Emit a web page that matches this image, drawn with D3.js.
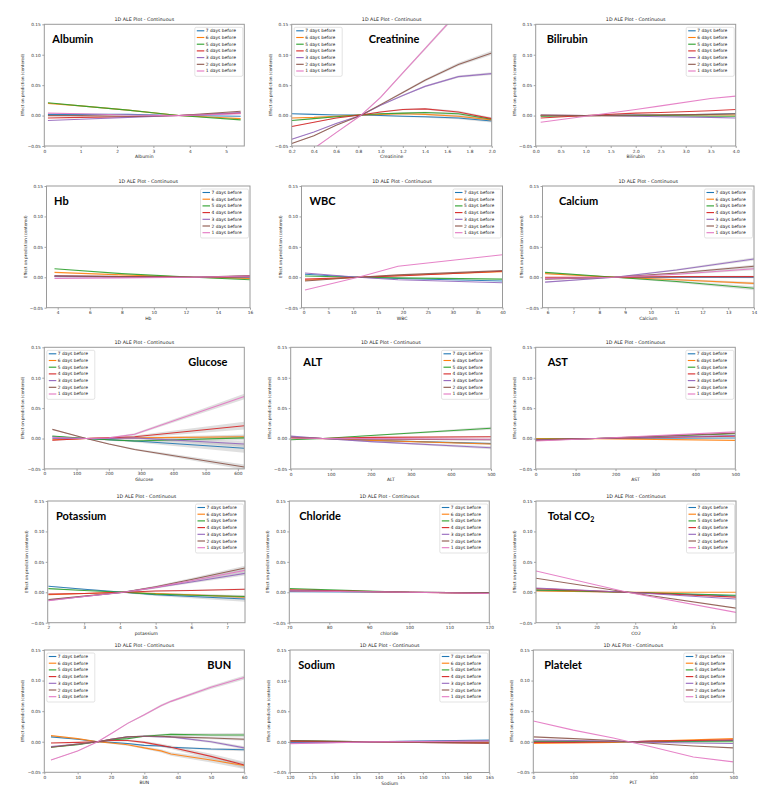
<!DOCTYPE html>
<html><head><meta charset="utf-8">
<script src="https://cdn.jsdelivr.net/npm/d3@7/dist/d3.min.js"></script>
<style>body{margin:0;background:#fff}svg{display:block}</style>
</head><body><svg id="c" width="765" height="800"></svg>
<script>
const seriesLabels = ["7 days before","6 days before","5 days before","4 days before","3 days before","2 days before","1 days before"];
const seriesColors = ["#1f77b4","#ff7f0e","#2ca02c","#d62728","#9467bd","#8c564b","#e377c2"];
const panelNames = ["Albumin","Creatinine","Bilirubin","Hb","WBC","Calcium","Glucose","ALT","AST","Potassium","Chloride","Total CO2","BUN","Sodium","Platelet"];
const xAxisLabels = ["Albumin","Creatinine","Bilirubin","Hb","WBC","Calcium","Glucose","ALT","AST","potassium","chloride","CO2","BUN","Sodium","PLT"];
const xDomains = [[0,5.5],[0.2,2.0],[0,4.0],[3.3,16],[-0.4,40],[5.8,14],[0,620],[0,500],[0,500],[1.98,7.5],[70,120],[12.2,38],[0,60],[120,165],[0,500]];
const xTickValues = [
  [0,1,2,3,4,5],
  [0.2,0.4,0.6,0.8,1.0,1.2,1.4,1.6,1.8,2.0],
  [0,0.5,1,1.5,2,2.5,3,3.5,4],
  [4,6,8,10,12,14,16],
  [0,5,10,15,20,25,30,35,40],
  [6,7,8,9,10,11,12,13,14],
  [0,100,200,300,400,500,600],
  [0,100,200,300,400,500],
  [0,100,200,300,400,500],
  [2,3,4,5,6,7],
  [70,80,90,100,110,120],
  [15,20,25,30,35],
  [0,10,20,30,40,50,60],
  [120,125,130,135,140,145,150,155,160,165],
  [0,100,200,300,400,500]
];
const xTickFormats = ["d",".1f",".1f","d","d","d","d","d","d","d","d","d","d","d","d"];
const yTicks = [-0.05,0,0.05,0.10,0.15];

// x positions and series values (7 days .. 1 days before)
const albuminX = [0.1,1.0,2.3,3.7,5.4];
const albuminY = [
  [0.002,0.002,0.002,0,-0.001],
  [0.020,0.016,0.009,0,-0.005],
  [0.021,0.016,0.009,0,-0.007],
  [-0.004,-0.003,-0.002,0,0.004],
  [-0.008,-0.006,-0.003,0,0.005],
  [0.000,0.000,-0.001,0,0.007],
  [0.004,0.003,0.001,0,0.003]];
const creatinineX = [0.2,0.4,0.6,0.82,1.0,1.2,1.4,1.7,2.0];
const creatinineY = [
  [0.003,0.002,0.001,0.001,0.000,-0.001,-0.002,-0.004,-0.009],
  [-0.004,-0.003,-0.001,0.001,0.002,0.003,0.002,-0.001,-0.007],
  [-0.008,-0.005,-0.002,0.001,0.003,0.004,0.005,0.003,-0.006],
  [-0.018,-0.011,-0.004,0.001,0.006,0.010,0.011,0.006,-0.005],
  [-0.039,-0.027,-0.013,0,0.017,0.033,0.048,0.064,0.069],
  [-0.046,-0.033,-0.016,0,0.018,0.038,0.058,0.084,0.103],
  [-0.085,-0.054,-0.028,0,0.030,0.070,0.110,0.170,0.230]];
const bilirubinX = [0.1,1.0,2.0,2.5,3.5,4.0];
const bilirubinY = [
  [0,0,0.001,0.001,0.002,0.003],
  [0,0,0,0.001,0.001,0.001],
  [-0.001,0,0,0,-0.001,-0.001],
  [-0.004,0,0.004,0.005,0.008,0.010],
  [0.001,0,-0.001,-0.002,-0.003,-0.004],
  [0.001,0,0.001,0.001,0.002,0.003],
  [-0.011,-0.001,0.010,0.016,0.028,0.032]];
const hbX = [3.8,8,12.5,16];
const hbY = [
  [0.002,0.001,0,-0.001],
  [0.008,0.004,0,-0.002],
  [0.014,0.006,0,-0.004],
  [0.002,0.001,0,0.001],
  [0.001,0.000,0,0.002],
  [0.002,0.001,0,0.003],
  [-0.002,-0.001,0,0.002]];
const wbcX = [0.3,11,19,40];
const wbcY = [
  [0.005,0,-0.002,-0.006],
  [-0.005,0,0.003,0.009],
  [0.002,0,-0.001,-0.003],
  [-0.003,0,0.002,0.010],
  [0.007,0,-0.004,-0.009],
  [-0.006,0,0.004,0.011],
  [-0.021,0,0.018,0.037]];
const calciumX = [5.9,8.6,11,14];
const calciumY = [
  [-0.002,0,0,0],
  [0.006,0,-0.004,-0.010],
  [0.008,0,-0.007,-0.018],
  [0,0,0.001,0.001],
  [-0.008,0,0.012,0.030],
  [-0.003,0,0.007,0.018],
  [-0.002,0,0.005,0.014]];
const glucoseX = [25,130,200,280,620];
const glucoseY = [
  [0.003,0,-0.002,-0.004,-0.016],
  [-0.002,0,0.001,0.001,0.003],
  [0.004,0,-0.002,-0.004,0.001],
  [-0.003,0,0.001,0.003,0.021],
  [0.000,0,0.000,0.001,-0.009],
  [0.015,0,-0.009,-0.018,-0.047],
  [0.002,0,0.001,0.007,0.069]];
const altX = [0,80,200,500];
const altY = [
  [0.002,0,-0.003,-0.008],
  [0.001,0,-0.003,-0.009],
  [-0.002,0,0.005,0.017],
  [0.002,0,0.002,0.003],
  [0.004,0,-0.005,-0.015],
  [0.002,0,-0.001,-0.002],
  [0.001,0,0.000,-0.001]];
const astX = [0,150,500];
const astY = [
  [-0.001,0,0.001],
  [0.000,0,-0.003],
  [-0.001,0,0.008],
  [-0.002,0,0.004],
  [-0.002,0,0.005],
  [-0.003,0,0.009],
  [-0.004,0,0.011]];
const potassiumX = [2.0,3.0,4.1,5.0,6.0,7.5];
const potassiumY = [
  [0.010,0.005,0,-0.004,-0.007,-0.011],
  [-0.004,-0.002,0,-0.002,-0.004,-0.008],
  [0.006,0.003,0,-0.003,-0.005,-0.007],
  [-0.003,-0.002,0,0.002,0.003,0.005],
  [-0.013,-0.007,0,0.008,0.017,0.031],
  [-0.012,-0.006,0,0.009,0.021,0.040],
  [-0.014,-0.007,0,0.008,0.019,0.036]];
const chlorideX = [70,100,120];
const chlorideY = [
  [0.001,0,-0.001],
  [0.003,0,-0.001],
  [0.006,0,-0.001],
  [0.004,0,-0.002],
  [0.003,0,-0.001],
  [0.002,0,-0.001],
  [0.002,0,-0.002]];
const co2X = [12.2,24,38];
const co2Y = [
  [0.003,0,-0.006],
  [0.002,0,0.000],
  [0.004,0,-0.005],
  [0.006,0,-0.008],
  [0.007,0,-0.011],
  [0.023,0,-0.026],
  [0.035,0,-0.033]];
const bunX = [2,10,16,20,25,30,35,38,50,60];
const bunY = [
  [0.008,0.004,0,-0.001,-0.003,-0.006,-0.007,-0.009,-0.012,-0.013],
  [0.010,0.005,0,-0.002,-0.005,-0.010,-0.015,-0.020,-0.030,-0.039],
  [-0.009,-0.005,0,0.003,0.005,0.009,0.011,0.012,0.011,0.011],
  [-0.002,-0.001,0,0.002,0.002,-0.001,-0.006,-0.009,-0.024,-0.038],
  [-0.008,-0.004,0,0.004,0.008,0.009,0.008,0.008,0.000,-0.010],
  [-0.009,-0.004,0,0.004,0.008,0.009,0.009,0.008,0.006,0.004],
  [-0.030,-0.015,0,0.013,0.030,0.044,0.059,0.066,0.089,0.105]];
const sodiumX = [120,138,165];
const sodiumY = [
  [-0.001,0,0.003],
  [0.001,0,-0.001],
  [0.002,0,0.001],
  [0.001,0,-0.002],
  [-0.002,0,0.002],
  [0.002,0,-0.002],
  [-0.003,0,0.001]];
const plateletX = [0,100,200,240,300,400,500];
const plateletY = [
  [0.000,0,0,0,0.001,0.001,0.002],
  [-0.003,-0.002,-0.001,0,0.001,0.003,0.005],
  [0.001,0.001,0,0,0,0,0],
  [-0.001,-0.001,0,0,0.001,0.002,0.003],
  [0.003,0.002,0.001,0,-0.001,-0.002,-0.003],
  [0.008,0.005,0.002,0,-0.003,-0.007,-0.010],
  [0.034,0.019,0.006,0,-0.009,-0.025,-0.033]];

// confidence band half-widths at the last x point of each series (grey bands)
const bandEnd = [
  null,
  [0.002,0.002,0.002,0.002,0.002,0.003,0.003],
  null, null, null,
  [0.001,0.002,0.003,0.001,0.002,0.002,0.002],
  [0.007,0.003,0.004,0.006,0.004,0.004,0.004],
  [0.001,0.001,0.002,0.001,0.002,0.001,0.001],
  null,
  [0.004,0.002,0.002,0.001,0.003,0.003,0.003],
  null, null,
  [0.002,0.005,0.003,0.005,0.002,0.002,0.003],
  null, null
];

const panelX = [albuminX,creatinineX,bilirubinX,hbX,wbcX,calciumX,glucoseX,altX,astX,potassiumX,chlorideX,co2X,bunX,sodiumX,plateletX];
const panelY = [albuminY,creatinineY,bilirubinY,hbY,wbcY,calciumY,glucoseY,altY,astY,potassiumY,chlorideY,co2Y,bunY,sodiumY,plateletY];

// layout (plot rectangles), label & legend placement
const rects = [
  [44.3,24.3,200,121.7],[291.7,24.3,200,121.7],[535.7,24.3,200,121.7],
  [46.5,186,203.5,121.7],[301.5,186,201,121.7],[542.5,186,211.5,121.7],
  [44.3,347.3,200,121.6],[290.7,347.3,200.3,121.7],[535.7,347.3,199.6,121.7],
  [47.7,501,197.3,121.7],[289.3,501,200,121.7],[536,501,200,121.7],
  [44.3,650,200,122.3],[290,650,199.3,122.5],[533.3,650,200,122.3]
];
const labelOffset = [8,77,11,7.5,8,16.5,144,12.6,12,8.3,10,11.7,163,8.3,11];
const legendLeft = [false,true,false,false,false,false,true,false,false,false,false,false,true,false,false];

const svg = d3.select("#c");
const fmtY = v => d3.format(".2f")(v).replace("-", "\u2212");

panelNames.forEach((name, i) => {
  const [px, py, pw, ph] = rects[i];
  const g = svg.append("g").attr("transform", `translate(${px},${py})`);
  const x = d3.scaleLinear().domain(xDomains[i]).range([0, pw]);
  const y = d3.scaleLinear().domain([-0.05, 0.15]).range([ph, 0]);

  const clipId = "clip" + i;
  g.append("clipPath").attr("id", clipId).append("rect").attr("width", pw).attr("height", ph);
  const plot = g.append("g").attr("clip-path", `url(#${clipId})`);

  const xs = panelX[i];
  // bands
  if (bandEnd[i]) {
    panelY[i].forEach((vals, s) => {
      const w = bandEnd[i][s];
      const n = xs.length;
      const pts = xs.map((xv, k) => ({x: xv, y: vals[k], h: (k === 0 ? 0.0006 : 0.0004) + w * Math.pow((xv - xs[0]) / (xs[n-1] - xs[0]), 1.5)}));
      const area = d3.area().x(d => x(d.x)).y0(d => y(d.y - d.h)).y1(d => y(d.y + d.h));
      plot.append("path").attr("d", area(pts)).attr("fill", "#b8b8b8").attr("opacity", 0.45);
    });
  }
  // lines
  const line = d3.line().x(d => x(d[0])).y(d => y(d[1]));
  panelY[i].forEach((vals, s) => {
    plot.append("path").datum(xs.map((xv, k) => [xv, vals[k]]))
      .attr("d", line).attr("fill", "none")
      .attr("stroke", seriesColors[s]).attr("stroke-width", 1.1).attr("stroke-opacity", 0.9);
  });

  // axes
  const xAxis = d3.axisBottom(x).tickValues(xTickValues[i]).tickFormat(d3.format(xTickFormats[i])).tickSize(2).tickPadding(1.5);
  const yAxis = d3.axisLeft(y).tickValues(yTicks).tickFormat(fmtY).tickSize(2).tickPadding(1.5);
  const gx = g.append("g").attr("transform", `translate(0,${ph})`).call(xAxis);
  const gy = g.append("g").call(yAxis);
  [gx, gy].forEach(a => {
    a.select(".domain").remove();
    a.selectAll("line").attr("stroke", "#666").attr("stroke-width", 0.6);
    a.selectAll("text").attr("font-family", "DejaVu Sans").attr("font-size", 4.3).attr("fill", "#333");
  });
  g.append("rect").attr("width", pw).attr("height", ph).attr("fill", "none").attr("stroke", "#9a9a9a").attr("stroke-width", 1);

  // title & axis labels
  g.append("text").attr("x", pw / 2).attr("y", -3).attr("text-anchor", "middle")
    .attr("font-family", "DejaVu Sans").attr("font-size", 4.8).attr("fill", "#222").text("1D ALE Plot - Continuous");
  g.append("text").attr("x", pw / 2).attr("y", ph + 12).attr("text-anchor", "middle")
    .attr("font-family", "DejaVu Sans").attr("font-size", 4.5).attr("fill", "#222").text(xAxisLabels[i]);
  g.append("text").attr("transform", `translate(${-20},${ph / 2}) rotate(-90)`).attr("text-anchor", "middle")
    .attr("font-family", "DejaVu Sans").attr("font-size", 4.1).attr("fill", "#222").text("Effect on prediction (centered)");

  // big label
  const lab = g.append("text").attr("x", labelOffset[i]).attr("y", 18.5)
    .attr("font-family", "Lato, 'Open Sans', sans-serif").attr("font-weight", "bold")
    .attr("font-size", 11).attr("fill", "#000");
  if (name === "Total CO2") {
    lab.append("tspan").text("Total CO");
    lab.append("tspan").attr("font-size", 7).attr("dy", 2.5).text("2");
  } else {
    lab.text(name);
  }

  // legend
  const lw = 48, lh = 49;
  const lx = legendLeft[i] ? 2.5 : pw - lw - 1.5;
  const ly = 3;
  const lg = g.append("g").attr("transform", `translate(${lx},${ly})`);
  lg.append("rect").attr("width", lw).attr("height", lh).attr("rx", 1.5)
    .attr("fill", "#fff").attr("fill-opacity", 0.85).attr("stroke", "#d0d0d0").attr("stroke-width", 0.6);
  seriesLabels.forEach((t, s) => {
    const yy = 3.5 + s * 6.7;
    lg.append("line").attr("x1", 2).attr("x2", 9.5).attr("y1", yy).attr("y2", yy)
      .attr("stroke", seriesColors[s]).attr("stroke-width", 1.1);
    lg.append("text").attr("x", 11).attr("y", yy + 1.5)
      .attr("font-family", "DejaVu Sans").attr("font-size", 4.4).attr("fill", "#222").text(t);
  });
});
</script></body></html>
